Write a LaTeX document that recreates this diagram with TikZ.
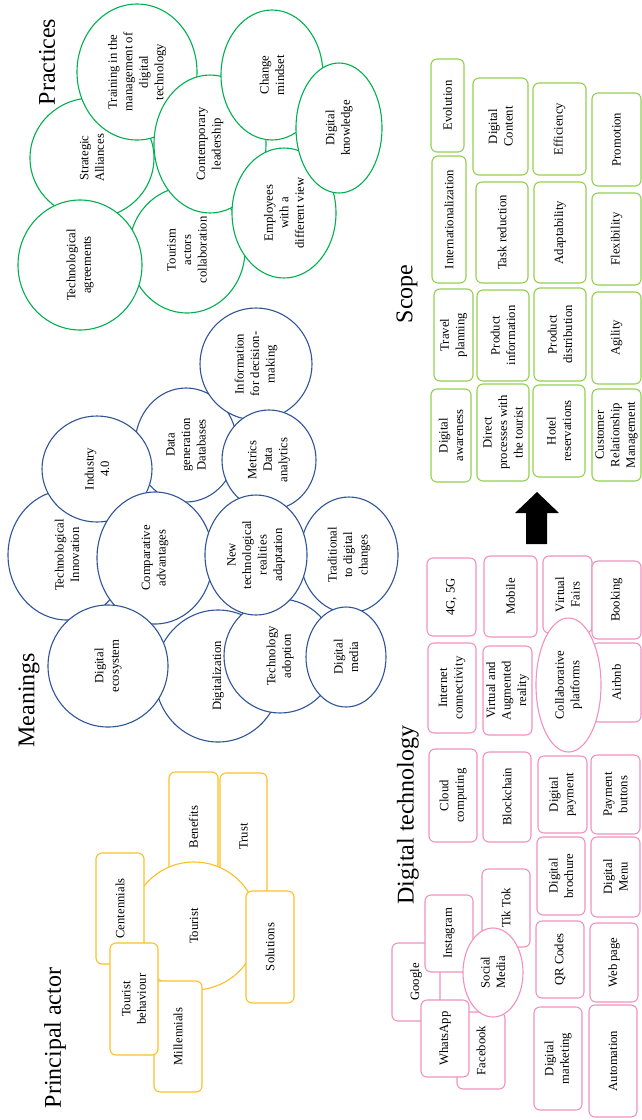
\documentclass[tikz,border=0pt]{standalone}
\usepackage{fontspec}
\setmainfont{Liberation Serif}
\usetikzlibrary{shapes.geometric}
\definecolor{actorgold}{RGB}{252,192,40}
\definecolor{meanblue}{RGB}{47,85,151}
\definecolor{practgreen}{RGB}{0,176,80}
\definecolor{techpink}{RGB}{242,145,192}
\definecolor{scopegreen}{RGB}{146,208,80}
\tikzset{sz/.style 2 args={minimum width=#1pt, minimum height=#2pt}}

\begin{document}
\begin{tikzpicture}[
  x=1pt, y=-1pt,
  every node/.style={font=\fontsize{12.7}{15.5}\selectfont, align=center, rotate=90},
  headline/.style={font=\fontsize{24}{28}\selectfont, inner sep=0pt},
  card/.style={draw, fill=white, rounded corners=6pt, line width=1.1pt, inner sep=1pt},
  ball/.style={ellipse, draw, fill=white, line width=1.1pt, inner sep=0pt},
  actor/.style={card, draw=actorgold},
  mean/.style={ball, draw=meanblue},
  pract/.style={ball, draw=practgreen},
  tech/.style={card, draw=techpink},
  techball/.style={ball, draw=techpink},
  scopebox/.style={card, draw=scopegreen}
]
\useasboundingbox (0,0) rectangle (642,1120);

% principal actor
\node[headline] (actortitle) at (55,1038) {Principal actor};
\node[actor, sz={110}{49}] (benefits) at (193.5,827) {Benefits};
\node[actor, sz={127}{47}] (trust) at (243.5,836.5) {Trust};
\node[actor, circle, minimum size=128pt] (tourist) at (194,926) {Tourist};
\node[actor, sz={111}{48}] (centennials) at (120,908.5) {Centennials};
\node[actor, sz={112}{48}] (solutions) at (270,947) {Solutions};
\node[actor, sz={111}{48}] (millennials) at (178,1036.5) {Millennials};
\node[actor, sz={112}{48}] (behaviour) at (134,999) {Tourist\\behaviour};

% meanings
\node[headline] (meantitle) at (29,700) {Meanings};
\node[mean, sz={130}{118}] (innovation) at (67,555) {Technological\\Innovation};
\node[mean, sz={114}{102}] (datagen) at (186,445) {Data\\generation\\Databases};
\node[mean, sz={112}{112}] (decision) at (256,364) {Information\\for decision-\\making};
\node[mean, sz={106}{110}] (industry) at (97,469) {Industry\\4.0};
\node[mean, sz={132}{126}] (digitalization) at (218,676) {Digitalization};
\node[mean, sz={132}{116}] (comparative) at (155,558) {Comparative\\advantages};
\node[mean, sz={100}{94}] (metrics) at (269,460) {Metrics\\Data\\analytics};
\node[mean, sz={116}{98}] (traditional) at (349,555) {Traditional\\to digital\\changes};
\node[mean, sz={114}{112}] (adoption) at (280,656) {Technology\\adoption};
\node[mean, sz={120}{102}] (newtech) at (256,555) {New\\technological\\realities\\adaptation};
\node[mean, sz={100}{80}] (digmedia) at (346,657) {Digital\\media};
\node[mean, sz={122}{120}] (ecosystem) at (108,666) {Digital\\ecosystem};

% practices
\node[headline] (practtitle) at (47,62) {Practices};
\node[pract, sz={120}{124}] (alliances) at (92,158) {Strategic\\Alliances};
\node[pract, sz={136}{120}] (training) at (137,72) {Training in the\\management of\\digital\\technology};
\node[pract, sz={126}{116}] (actorscollab) at (187,250) {Tourism\\actors\\collaboration};
\node[pract, sz={138}{112}] (leadership) at (210,144) {Contemporary\\leadership};
\node[pract, sz={130}{124}] (agreements) at (80,265) {Technological\\agreements};
\node[pract, sz={130}{102}] (mindset) at (272,75) {Change\\mindset};
\node[pract, sz={130}{104}] (employees) at (284,213) {Employees\\with a\\different view};
\node[pract, sz={130}{86}] (knowledge) at (339,128) {Digital\\knowledge};

% digital technology
\node[headline] (techtitle) at (408,815) {Digital technology};
\node[tech, sz={78}{48}] (google) at (416,982) {Google};
\node[tech, sz={77}{48}] (facebook) at (481,1050.5) {Facebook};
\node[tech, sz={77}{48}] (instagram) at (449,933.5) {Instagram};
\node[tech, sz={77}{48}] (whatsapp) at (445,1038.5) {WhatsApp};
\node[tech, sz={78}{48}] (tiktok) at (506,908) {Tik Tok};
\node[techball, sz={89}{60}] (social) at (493,972.5) {Social\\Media};
\node[tech, sz={77}{48}] (qrcodes) at (560,959.5) {QR Codes};
\node[tech, sz={103}{48}] (marketing) at (558,1058.5) {Digital\\marketing};
\node[tech, sz={79}{48}] (webpage) at (614,962.5) {Web page};
\node[tech, sz={112}{48}] (automation) at (613,1061) {Automation};
\node[tech, sz={78}{48}] (brochure) at (561,876) {Digital\\brochure};
\node[tech, sz={80}{49}] (menu) at (615.5,877) {Digital\\Menu};
\node[tech, sz={77}{49}] (payment) at (562.5,794.5) {Digital\\payment};
\node[tech, sz={79}{49}] (buttons) at (615.5,794.5) {Payment\\buttons};
\node[tech, sz={93}{48}] (cloud) at (453,795.5) {Cloud\\computing};
\node[tech, sz={90}{48}] (blockchain) at (507,797) {Blockchain};
\node[tech, sz={78}{49}] (network) at (451.5,597) {4G, 5G};
\node[tech, sz={81}{53}] (mobile) at (510.5,596.5) {Mobile};
\node[tech, sz={77}{49}] (fairs) at (567.5,594.5) {Virtual\\Fairs};
\node[tech, sz={78}{49}] (booking) at (616.5,600) {Booking};
\node[tech, sz={90}{48}] (internet) at (452,688) {Internet\\connectivity};
\node[tech, sz={89}{49}] (reality) at (507.5,690.5) {Virtual and\\Augmented\\reality};
\node[tech, sz={79}{49}] (airbnb) at (616.5,682.5) {Airbnb};
\node[techball, sz={134}{65}] (platforms) at (568.5,685) {Collaborative\\platforms};

% scope
\node[headline] (scopetitle) at (407,294) {Scope};
\node[scopebox, sz={93}{33}] (evolution) at (447.5,105.5) {Evolution};
\node[scopebox, sz={127}{34}] (internat) at (449,219.5) {Internationalization};
\node[scopebox, sz={92}{39}] (travel) at (453.5,335) {Travel\\planning};
\node[scopebox, sz={93}{40}] (awareness) at (451,435.5) {Digital\\awareness};
\node[scopebox, sz={97}{55}] (content) at (500.5,126.5) {Digital\\Content};
\node[scopebox, sz={101}{52}] (taskred) at (502,232.5) {Task reduction};
\node[scopebox, sz={91}{52}] (prodinfo) at (503,335.5) {Product\\information};
\node[scopebox, sz={97}{52}] (direct) at (503,432.5) {Direct\\processes with\\the tourist};
\node[scopebox, sz={92}{53}] (efficiency) at (559.5,129) {Efficiency};
\node[scopebox, sz={101}{52}] (adapt) at (560,232.5) {Adaptability};
\node[scopebox, sz={93}{52}] (proddist) at (560,334.5) {Product\\distribution};
\node[scopebox, sz={92}{52}] (hotel) at (559,431) {Hotel\\reservations};
\node[scopebox, sz={93}{49}] (promotion) at (616.5,139.5) {Promotion};
\node[scopebox, sz={92}{49}] (flexibility) at (616.5,239) {Flexibility};
\node[scopebox, sz={92}{49}] (agility) at (616.5,338) {Agility};
\node[scopebox, sz={92}{49}] (crm) at (616.5,435) {Customer\\Relationship\\Management};

% block arrow towards scope
\fill (526,544) -- (526,513) -- (515,513) -- (537,492) -- (559,513) -- (547,513) -- (547,544) -- cycle;
\end{tikzpicture}
\end{document}
